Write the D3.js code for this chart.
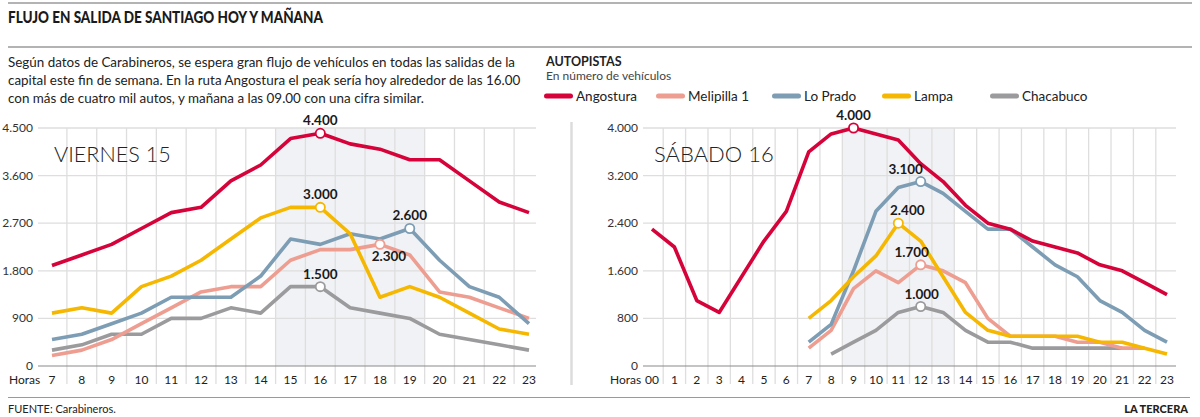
<!DOCTYPE html>
<html><head><meta charset="utf-8">
<script src="https://cdn.jsdelivr.net/npm/d3@7"></script>
<style>
body{margin:0;background:#fff;}
svg{display:block;font-family:Lato,"Open Sans",sans-serif;}
</style>
</head><body>
<svg id="c" width="1200" height="417"></svg>
<script>
// ---------- DATA ----------
const titleText = "FLUJO EN SALIDA DE SANTIAGO HOY Y MAÑANA";
const introLines = [
  "Según datos de Carabineros, se espera gran flujo de vehículos en todas las salidas de la",
  "capital este fin de semana. En la ruta Angostura el peak sería hoy alrededor de las 16.00",
  "con más de cuatro mil autos, y mañana a las 09.00 con una cifra similar."
];
const legendTitle = "AUTOPISTAS";
const legendSub = "En número de vehículos";
const sourceText = "FUENTE: Carabineros.";
const brandText = "LA TERCERA";
const seriesNames = ["Angostura", "Melipilla 1", "Lo Prado", "Lampa", "Chacabuco"];

// Viernes 15
const friTitle = "VIERNES 15";
const friHours = [7,8,9,10,11,12,13,14,15,16,17,18,19,20,21,22,23];
const friHourLabels = ["7","8","9","10","11","12","13","14","15","16","17","18","19","20","21","22","23"];
const friTicks = [0, 900, 1800, 2700, 3600, 4500];
const friAngostura = [1900,2100,2300,2600,2900,3000,3500,3800,4300,4400,4200,4100,3900,3900,3500,3100,2900];
const friMelipilla = [200,300,500,800,1100,1400,1500,1500,2000,2200,2200,2300,2100,1400,1300,1100,900];
const friLoPrado   = [500,600,800,1000,1300,1300,1300,1700,2400,2300,2500,2400,2600,2000,1500,1300,800];
const friLampa     = [1000,1100,1000,1500,1700,2000,2400,2800,3000,3000,2500,1300,1500,1300,1000,700,600];
const friChacabuco = [300,400,600,600,900,900,1100,1000,1500,1500,1100,1000,900,600,500,400,300];
const friPeakSeries = ["Angostura","Lampa","Lo Prado","Melipilla 1","Chacabuco"];
const friPeakHours  = [16, 16, 19, 18, 16];
const friHighlight  = [14.5, 19.5];

// Sábado 16
const satTitle = "SÁBADO 16";
const satHours = [0,1,2,3,4,5,6,7,8,9,10,11,12,13,14,15,16,17,18,19,20,21,22,23];
const satHourLabels = ["00","1","2","3","4","5","6","7","8","9","10","11","12","13","14","15","16","17","18","19","20","21","22","23"];
const satTicks = [0, 800, 1600, 2400, 3200, 4000];
const satAngostura = [2300,2000,1100,900,1500,2100,2600,3600,3900,4000,3900,3800,3400,3100,2700,2400,2300,2100,2000,1900,1700,1600,1400,1200];
const satMelipilla = [null,null,null,null,null,null,null,300,600,1300,1600,1400,1700,1600,1400,800,500,500,500,400,400,300,300,null];
const satLoPrado   = [null,null,null,null,null,null,null,400,700,1600,2600,3000,3100,2900,2600,2300,2300,2000,1700,1500,1100,900,600,400];
const satLampa     = [null,null,null,null,null,null,null,800,1100,1500,1850,2400,2100,1500,900,600,500,500,500,500,400,400,300,200];
const satChacabuco = [null,null,null,null,null,null,null,null,200,400,600,900,1000,900,600,400,400,300,300,300,300,300,null,null];
const satPeakSeries = ["Angostura","Lo Prado","Lampa","Melipilla 1","Chacabuco"];
const satPeakHours  = [9, 12, 11, 12, 12];
const satHighlight  = [8.5, 13.5];

// ---------- STYLE ----------
const colors = {"Angostura":"#d5033a","Melipilla 1":"#ee9d91","Lo Prado":"#7d9db4","Lampa":"#f5b700","Chacabuco":"#9b9b9d"};
const drawOrder = ["Chacabuco","Melipilla 1","Lo Prado","Lampa","Angostura"];
const labelShift = { // dx, below?
  fri: {"Angostura":[0,false],"Lampa":[0,false],"Lo Prado":[0,false],"Melipilla 1":[9,true],"Chacabuco":[0,false]},
  sat: {"Angostura":[0,false],"Lo Prado":[-15,false],"Lampa":[9,false],"Melipilla 1":[-9,false],"Chacabuco":[1,false]}
};

const loc = d3.formatLocale({decimal:",", thousands:".", grouping:[3], currency:["$",""]});
const fmt = loc.format(",d");

const svg = d3.select("#c");
svg.append("rect").attr("width",1200).attr("height",417).attr("fill","#fff");

// header rules
svg.append("line").attr("x1",8).attr("x2",1192).attr("y1",3).attr("y2",3).attr("stroke","#9a9a9a").attr("stroke-width",1.5);
svg.append("line").attr("x1",8).attr("x2",1192).attr("y1",47).attr("y2",47).attr("stroke","#9a9a9a").attr("stroke-width",1.5);

function fitText(sel, target) {
  const w = sel.node().getComputedTextLength();
  if (w > target) sel.attr("textLength", target).attr("lengthAdjust","spacingAndGlyphs");
}

const title = svg.append("text").attr("x",8).attr("y",23).attr("font-size",16.5).attr("font-weight",900)
  .attr("fill","#1a1a1a").text(titleText);
fitText(title, 315);

// intro paragraph
const introSize = 14;
const introNodes = introLines.map((t,i) => svg.append("text").attr("x",8).attr("y",67 + i*18)
  .attr("font-size",introSize).attr("fill","#222").text(t));
const w0 = introNodes[0].node().getComputedTextLength();
const ratio = Math.min(1, 507 / w0);
introNodes.forEach(n => {
  const w = n.node().getComputedTextLength();
  if (ratio < 1) n.attr("textLength", w*ratio).attr("lengthAdjust","spacingAndGlyphs");
});

// legend
svg.append("text").attr("x",546).attr("y",66).attr("font-size",12.5).attr("font-weight",700).attr("fill","#222").text(legendTitle);
svg.append("text").attr("x",546).attr("y",80).attr("font-size",12).attr("fill","#444").text(legendSub);
const legendX = [544, 656, 772, 882, 990];
seriesNames.forEach((n,i) => {
  const g = svg.append("g").attr("transform",`translate(${legendX[i]},96)`);
  g.append("line").attr("x1",2.5).attr("x2",26.5).attr("stroke",colors[n]).attr("stroke-width",5).attr("stroke-linecap","round");
  g.append("text").attr("x",32).attr("y",4.5).attr("font-size",13.5).attr("fill","#222").text(n);
});

// footer
svg.append("line").attr("x1",8).attr("x2",1190).attr("y1",397.5).attr("y2",397.5).attr("stroke","#9a9a9a").attr("stroke-width",1.2);
svg.append("text").attr("x",8).attr("y",413).attr("font-size",11).attr("fill","#222").text(sourceText);
svg.append("text").attr("x",1188).attr("y",413).attr("font-size",11).attr("font-weight",900).attr("text-anchor","end").attr("fill","#222").text(brandText);

// separator
svg.append("line").attr("x1",571.5).attr("x2",571.5).attr("y1",122).attr("y2",385).attr("stroke","#dcdcdc").attr("stroke-width",2.5);

function panel(cfg) {
  const x = d3.scaleLinear().domain([cfg.hours[0], cfg.hours[cfg.hours.length-1]]).range(cfg.xRange);
  const y = d3.scaleLinear().domain([0, cfg.ticks[cfg.ticks.length-1]]).range([366, 128]);
  const g = svg.append("g");
  const gx0 = cfg.gridX[0], gx1 = cfg.gridX[1];
  // highlight
  g.append("rect").attr("x",x(cfg.highlight[0])).attr("width",x(cfg.highlight[1])-x(cfg.highlight[0]))
    .attr("y",y.range()[1]).attr("height",y.range()[0]-y.range()[1]).attr("fill","#f1f2f5");
  // horizontal grid
  g.selectAll(".hg").data(cfg.ticks.slice(1)).join("line")
    .attr("x1",gx0).attr("x2",gx1).attr("y1",d=>y(d)).attr("y2",d=>y(d))
    .attr("stroke","#dedede").attr("stroke-width",1.3);
  // vertical grid
  const vg = cfg.hours.slice(0,-1).map(h=>h+0.5);
  g.selectAll(".vg").data(vg).join("line")
    .attr("x1",d=>x(d)).attr("x2",d=>x(d)).attr("y1",128).attr("y2",384)
    .attr("stroke","#dedede").attr("stroke-width",1.3);
  // zero line
  g.append("line").attr("x1",gx0).attr("x2",gx1).attr("y1",y(0)).attr("y2",y(0)).attr("stroke","#8a8a8a").attr("stroke-width",1.2);
  // y tick labels
  g.selectAll(".yt").data(cfg.ticks).join("text")
    .attr("x",cfg.tickX).attr("y",d=>y(d)+4).attr("text-anchor","end")
    .attr("font-size",12).attr("fill","#333").text(d=>fmt(d));
  // x labels
  g.append("text").attr("x",cfg.horasX).attr("y",384).attr("font-size",12).attr("fill","#222").text("Horas");
  g.selectAll(".xt").data(cfg.hours).join("text")
    .attr("x",d=>x(d)).attr("y",384).attr("text-anchor","middle")
    .attr("font-size",12).attr("fill","#222").text((d,i)=>cfg.hourLabels[i]);
  // panel title
  g.append("text").attr("x",cfg.titleX).attr("y",162).attr("font-size",cfg.titleSize).attr("font-weight",300)
    .attr("fill","#222").text(cfg.title);
  // lines
  const line = d3.line().defined(d=>d[1]!=null).x(d=>x(d[0])).y(d=>y(d[1]));
  drawOrder.forEach(n => {
    const vals = cfg.series[n];
    g.append("path").datum(cfg.hours.map((h,i)=>[h, vals[i]]))
      .attr("d", line).attr("fill","none").attr("stroke",colors[n]).attr("stroke-width",3.6)
      .attr("stroke-linejoin","round").attr("stroke-linecap","butt");
  });
  // peaks
  cfg.peakSeries.forEach((n,i) => {
    const h = cfg.peakHours[i];
    const v = cfg.series[n][cfg.hours.indexOf(h)];
    const [dx, below] = cfg.shift[n];
    g.append("circle").attr("cx",x(h)).attr("cy",y(v)).attr("r",4.6)
      .attr("fill","#fff").attr("stroke",colors[n]).attr("stroke-width",1.8);
    g.append("text").attr("x",x(h)+dx).attr("y", below ? y(v)+17 : y(v)-8)
      .attr("text-anchor","middle").attr("font-size",13.5).attr("font-weight",700).attr("fill","#1a1a1a").text(fmt(v));
  });
}

panel({
  hours: friHours, hourLabels: friHourLabels, ticks: friTicks, xRange:[52,529], gridX:[38,536],
  tickX: 33, horasX: 9, titleX: 54, titleSize: 21.6, title: friTitle, highlight: friHighlight,
  series: {"Angostura":friAngostura,"Melipilla 1":friMelipilla,"Lo Prado":friLoPrado,"Lampa":friLampa,"Chacabuco":friChacabuco},
  peakSeries: friPeakSeries, peakHours: friPeakHours, shift: labelShift.fri
});
panel({
  hours: satHours, hourLabels: satHourLabels, ticks: satTicks, xRange:[652,1167], gridX:[643,1176],
  tickX: 638, horasX: 610, titleX: 654, titleSize: 22, title: satTitle, highlight: satHighlight,
  series: {"Angostura":satAngostura,"Melipilla 1":satMelipilla,"Lo Prado":satLoPrado,"Lampa":satLampa,"Chacabuco":satChacabuco},
  peakSeries: satPeakSeries, peakHours: satPeakHours, shift: labelShift.sat
});
</script>
</body></html>
